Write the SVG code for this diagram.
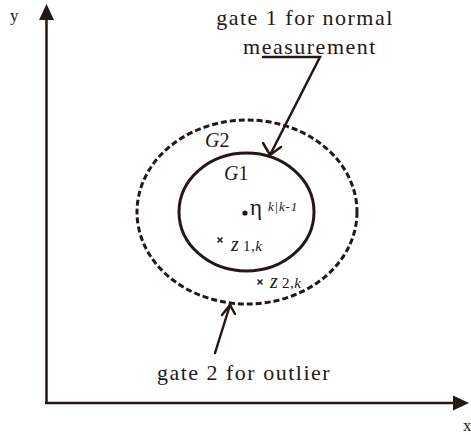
<svg xmlns="http://www.w3.org/2000/svg" width="471" height="435" viewBox="0 0 471 435">
<style>
text{font-family:'Liberation Serif','Times New Roman',serif;fill:#231815}
.lbl{font-size:22px;letter-spacing:1.5px}
.ax{stroke:#231815;stroke-width:2.5;fill:none}
.ln{stroke:#231815;stroke-width:2.5;fill:none;stroke-linecap:round}
.mk{stroke:#231815;stroke-width:1.5}
.it{font-style:italic}
</style>
<rect width="471" height="435" fill="#fff"/>
<g id="axes">
<line class="ax" x1="46.5" y1="404" x2="46.5" y2="18"/>
<polygon points="46.5,4 39,20 54,20" fill="#231815"/>
<line class="ax" x1="45" y1="403" x2="455" y2="403"/>
<polygon points="469,403 453,395.5 453,410.5" fill="#231815"/>
<text x="10" y="21" font-size="17">y</text>
<text x="463" y="431" font-size="17">x</text>
</g>
<g id="gate2">
<ellipse cx="247" cy="212" rx="110" ry="92" fill="none" stroke="#231815" stroke-width="3" stroke-dasharray="6,3"/>
<text x="205" y="147" font-size="20"><tspan class="it">G</tspan>2</text>
</g>
<g id="gate1">
<ellipse cx="246.5" cy="212" rx="67.5" ry="59" fill="none" stroke="#231815" stroke-width="3"/>
<text x="224" y="180" font-size="20"><tspan class="it">G</tspan>1</text>
</g>
<g id="eta">
<circle cx="245" cy="213" r="2.6" fill="#231815"/>
<text x="250" y="215" font-size="23">η</text>
<text x="268" y="211" font-size="13" class="it" letter-spacing="0.8">k|k-1</text>
</g>
<g id="z1">
<path class="mk" d="M217.5,237.5 l5,5 M222.5,237.5 l-5,5"/>
<text x="231" y="251" font-size="20" class="it">z</text>
<text x="243" y="251" font-size="15" letter-spacing="0.5">1,<tspan class="it">k</tspan></text>
</g>
<g id="z2">
<path class="mk" d="M257.5,279.5 l5,5 M262.5,279.5 l-5,5"/>
<text x="270" y="288" font-size="20" class="it">z</text>
<text x="282" y="288" font-size="15" letter-spacing="0.5">2,<tspan class="it">k</tspan></text>
</g>
<g id="label1">
<text class="lbl" x="305" y="25" text-anchor="middle">gate 1 for normal</text>
<text class="lbl" x="310" y="54" text-anchor="middle">measurement</text>
</g>
<g id="label2">
<text class="lbl" x="244" y="380" text-anchor="middle">gate 2 for outlier</text>
</g>
<g id="connectors">
<polyline class="ln" points="263,57 320,57 270,155"/>
<polyline class="ln" points="263,143 270,155 281,147"/>
<line class="ln" x1="215" y1="353" x2="230" y2="305"/>
<polyline class="ln" points="222,315 230,305 235,314"/>
</g>
</svg>
